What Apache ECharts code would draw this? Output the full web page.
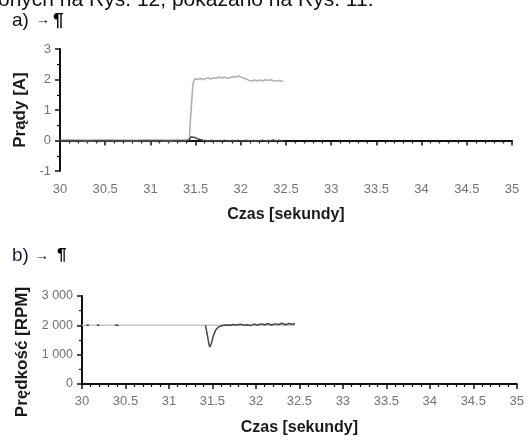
<!DOCTYPE html>
<html><head><meta charset="utf-8">
<script src="https://cdn.jsdelivr.net/npm/echarts@6/dist/echarts.min.js"></script>
<style>html,body{margin:0;padding:0;background:#fff}#c{width:527px;height:437px}</style>
</head><body><div id="c"></div>
<script>
// ---- Chart a) currents ----
const timeA = [30.0,30.1,30.2,30.3,30.4,30.5,30.6,30.7,30.8,30.9,31.0,31.1,31.2,31.3,31.4,31.43,31.45,31.47,31.49,31.52,31.55,31.58,31.61,31.64,31.67,31.70,31.73,31.76,31.79,31.82,31.85,31.88,31.91,31.94,31.97,32.00,32.03,32.06,32.09,32.12,32.15,32.18,32.21,32.24,32.27,32.30,32.33,32.36,32.39,32.42,32.45,32.47];
const currentLight = [0.0,0.01,0.0,-0.01,0.0,0.01,0.0,0.0,-0.01,0.0,0.01,0.0,-0.01,0.0,0.0,0.05,1.0,1.85,2.02,2.0,2.04,1.99,2.03,2.05,2.02,2.06,2.04,2.08,2.05,2.07,2.04,2.06,2.1,2.07,2.12,2.08,2.05,2.02,1.97,1.95,1.98,1.96,1.98,1.95,1.99,1.97,1.99,1.96,1.95,1.97,1.94,1.95];
const currentDark = [0.0,0.0,0.0,0.0,0.0,0.0,0.0,0.0,0.0,0.0,0.0,0.0,0.0,0.0,0.0,0.02,0.12,0.14,0.1,0.06,0.03,0.01,0.0,-0.02,0.01,-0.01,-0.03,0.0,-0.02,0.01,-0.03,-0.01,0.0,-0.03,0.01,-0.02,-0.01,0.01,-0.03,-0.01,0.0,-0.03,-0.01,0.01,-0.02,0.0,-0.01,0.02,-0.02,0.01,-0.01,0.0];
const ticksA = [-1,0,1,2,3];
// ---- Chart b) speed ----
const timeSetB = [30.0, 32.45];
const speedSet = [2000, 2000];
const timeB = [30.05,30.08,30.13,30.17,30.2,30.21,30.24,30.3,30.38,30.42,30.5,31.42,31.44,31.46,31.47,31.49,31.51,31.54,31.57,31.6,31.63,31.66,31.7,31.74,31.78,31.82,31.86,31.9,31.94,31.98,32.02,32.06,32.1,32.14,32.18,32.22,32.26,32.3,32.34,32.38,32.42,32.45];
const speedDark = [2000,2000,null,2000,2000,null,2000,null,2000,2000,null,2000,1700,1350,1260,1400,1650,1850,1940,1980,2000,2010,2000,2030,2010,2040,2000,2020,1990,2040,2010,2050,2020,2060,2010,2050,2030,2070,2020,2060,2040,2050];
const ticksB = [0,1000,2000,3000];
const xTicks = [30,30.5,31,31.5,32,32.5,33,33.5,34,34.5,35];

const zip = (x, y) => x.map((v, i) => [v, y[i]]);
const FONT = '"Liberation Sans", Arial, sans-serif';
const lbl = {color:'#737373', fontSize:13, fontFamily:FONT};
const xNameStyle = {color:'#1a1a1a', fontSize:16, fontWeight:'bold', fontFamily:FONT};
const yNameStyle = {color:'#1a1a1a', fontSize:17, fontWeight:'bold', fontFamily:FONT};
const axLine = {show:true, lineStyle:{color:'#111', width:2}};

function xAx(idx){
  return {type:'value', gridIndex:idx, min:xTicks[0], max:xTicks[xTicks.length-1], interval:0.5,
    axisLine:axLine, axisTick:{show:true, length:5, lineStyle:{color:'#111', width:1.5}},
    minorTick:{show:true, splitNumber:5, length:3, lineStyle:{color:'#111', width:1.2}},
    splitLine:{show:false}, axisLabel:Object.assign({margin:idx===0?12:11}, lbl),
    name:'Czas [sekundy]', nameLocation:'middle', nameGap:36, nameTextStyle:xNameStyle};
}
const chart = echarts.init(document.getElementById('c'), null, {renderer:'canvas'});
chart.setOption({
  animation:false,
  backgroundColor:'#fff',
  graphic:[
    {type:'text', left:-2, top:-10, style:{text:'onych na Rys. 12, pokazano na Rys. 11.', font:'21px '+FONT, fill:'#111'}},
    {type:'text', left:12, top:11, style:{text:'a)', font:'19px '+FONT, fill:'#111'}},
    {type:'text', left:36, top:13, style:{text:'\u2192', font:'14px '+FONT, fill:'#111'}},
    {type:'text', left:53, top:11, style:{text:'\u00b6', font:'bold 19px '+FONT, fill:'#000'}},
    {type:'text', left:12, top:246.5, style:{text:'b)', font:'19px '+FONT, fill:'#1a1a40'}},
    {type:'text', left:35, top:249, style:{text:'\u2192', font:'14px '+FONT, fill:'#111'}},
    {type:'text', left:57, top:247, style:{text:'\u00b6', font:'bold 17px '+FONT, fill:'#000'}}
  ],
  grid:[
    {left:60, top:49, width:452, height:122},
    {left:82, top:296, width:437, height:89}
  ],
  xAxis:[xAx(0), xAx(1)],
  yAxis:[
    {type:'value', gridIndex:0, min:ticksA[0], max:ticksA[ticksA.length-1], interval:1,
      axisLine:axLine, axisTick:{show:true, length:5, lineStyle:{color:'#111', width:1.5}},
      minorTick:{show:true, splitNumber:2, length:3, lineStyle:{color:'#111', width:1.2}},
      splitLine:{show:false}, axisLabel:Object.assign({margin:9}, lbl),
      name:'Prądy [A]', nameLocation:'middle', nameGap:27, nameTextStyle:yNameStyle},
    {type:'value', gridIndex:1, min:ticksB[0], max:ticksB[ticksB.length-1], interval:1000,
      axisLine:axLine, axisTick:{show:true, length:5, lineStyle:{color:'#111', width:1.5}},
      minorTick:{show:true, splitNumber:2, length:3, lineStyle:{color:'#111', width:1.2}},
      splitLine:{show:false},
      axisLabel:Object.assign({margin:9, formatter:v => String(v).replace(/\B(?=(\d{3})+$)/g,' ')}, lbl, {fontSize:12.5}),
      name:'Prędkość [RPM]', nameLocation:'middle', nameGap:51, nameTextStyle:Object.assign({padding:[0,24,0,0]}, yNameStyle)}
  ],
  series:[
    {type:'line', xAxisIndex:0, yAxisIndex:0, data:zip(timeA, currentLight), showSymbol:false,
      lineStyle:{color:'#b0b0b0', width:1.6}},
    {type:'line', xAxisIndex:0, yAxisIndex:0, data:zip(timeA, currentDark), showSymbol:false,
      lineStyle:{color:'#4a4a4a', width:1.5}},
    {type:'line', xAxisIndex:1, yAxisIndex:1, data:zip(timeSetB, speedSet), showSymbol:false,
      lineStyle:{color:'#c8c8c8', width:1.5}},
    {type:'line', xAxisIndex:1, yAxisIndex:1, data:zip(timeB, speedDark), showSymbol:false, connectNulls:false,
      lineStyle:{color:'#444', width:1.5}}
  ]
});
</script></body></html>
